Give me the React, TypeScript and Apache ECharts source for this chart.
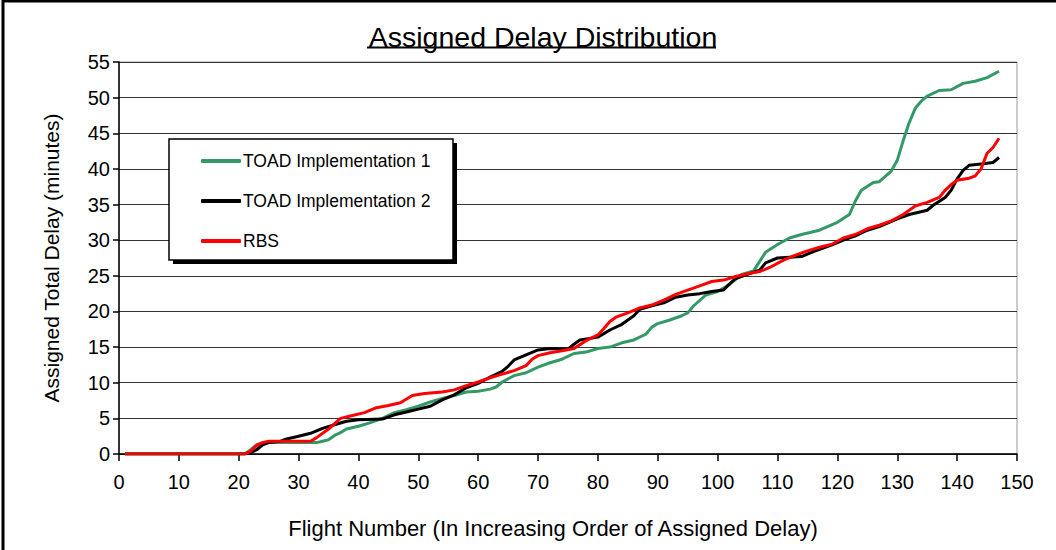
import React, { useEffect, useRef } from "react";
import * as echarts from "echarts";

const FONT = "'Liberation Sans', Arial, sans-serif";

const seriesNames = ["TOAD Implementation 1", "TOAD Implementation 2", "RBS"];
const seriesColors = ["#339966", "#000000", "#FF0000"];

const toad1: [number, number][] = [
  [1, 0], [21, 0], [22, 0.6], [23, 1.3], [24, 1.6], [33, 1.6], [34, 1.8], [35, 2.0], [36, 2.6], [37, 3.0],
  [38, 3.5], [40, 3.9], [42, 4.4], [44, 5.0], [46, 5.8], [48, 6.2], [50, 6.7], [52, 7.3], [54, 7.8], [56, 8.2],
  [58, 8.7], [60, 8.8], [62, 9.1], [63, 9.4], [64, 10.1], [66, 11.0], [68, 11.4], [70, 12.2], [72, 12.8], [74, 13.3],
  [76, 14.1], [78, 14.3], [80, 14.8], [82, 15.0], [84, 15.6], [86, 16.0], [88, 16.8], [89, 17.8], [90, 18.3], [92, 18.8],
  [94, 19.4], [95, 19.8], [96, 20.8], [98, 22.3], [100, 22.8], [102, 23.8], [104, 25.2], [106, 25.7], [107, 27.0], [108, 28.3],
  [110, 29.4], [112, 30.3], [114, 30.8], [117, 31.4], [120, 32.5], [122, 33.6], [123, 35.5], [124, 37.0], [126, 38.1], [127, 38.2],
  [129, 39.7], [130, 41.2], [131, 44.0], [132, 46.5], [133, 48.5], [134, 49.5], [135, 50.2], [137, 51.0], [139, 51.1], [141, 52.0],
  [143, 52.3], [145, 52.8], [147, 53.7],
];

const toad2: [number, number][] = [
  [1, 0], [21, 0], [22, 0.2], [23, 0.6], [24, 1.3], [25, 1.6], [27, 1.8], [28, 2.1], [30, 2.5], [32, 2.9],
  [34, 3.6], [36, 4.1], [38, 4.6], [40, 4.8], [44, 4.9], [46, 5.5], [48, 5.9], [50, 6.3], [52, 6.7], [54, 7.6],
  [56, 8.3], [58, 9.3], [60, 9.9], [62, 10.8], [64, 11.6], [65, 12.3], [66, 13.2], [68, 13.9], [70, 14.6], [72, 14.8],
  [75, 14.7], [76, 15.4], [77, 16.0], [80, 16.4], [82, 17.4], [84, 18.2], [86, 19.4], [87, 20.3], [89, 20.8], [91, 21.2],
  [93, 22.0], [95, 22.3], [97, 22.5], [99, 22.8], [101, 23.0], [102, 23.9], [103, 24.6], [105, 25.2], [107, 25.8], [108, 26.8],
  [110, 27.5], [114, 27.7], [116, 28.4], [119, 29.3], [121, 30.0], [123, 30.6], [125, 31.4], [127, 31.9], [130, 33.0], [132, 33.6],
  [135, 34.2], [136, 34.9], [138, 36.0], [139, 37.0], [140, 38.6], [141, 39.8], [142, 40.5], [144, 40.7], [146, 40.9], [147, 41.6],
];

const rbs: [number, number][] = [
  [1, 0], [21, 0], [22, 0.4], [23, 1.2], [24, 1.6], [25, 1.8], [32, 1.8], [33, 2.3], [35, 3.5], [37, 5.0],
  [39, 5.4], [41, 5.8], [43, 6.5], [45, 6.8], [47, 7.2], [49, 8.2], [51, 8.5], [54, 8.7], [56, 9.0], [58, 9.6],
  [60, 10.1], [62, 10.7], [64, 11.2], [66, 11.7], [68, 12.4], [69, 13.3], [70, 13.8], [72, 14.2], [74, 14.5], [76, 14.8],
  [78, 15.9], [80, 16.7], [81, 17.6], [82, 18.6], [83, 19.2], [85, 19.8], [87, 20.5], [89, 20.9], [91, 21.6], [93, 22.4],
  [95, 23.0], [97, 23.6], [99, 24.2], [101, 24.4], [103, 24.9], [105, 25.3], [107, 25.6], [109, 26.3], [111, 27.2], [113, 27.9],
  [115, 28.5], [117, 29.0], [119, 29.4], [121, 30.3], [123, 30.8], [125, 31.6], [127, 32.1], [129, 32.7], [131, 33.6], [133, 34.8],
  [135, 35.3], [137, 36.0], [138, 37.0], [139, 37.8], [140, 38.4], [142, 38.7], [143, 39.0], [144, 40.0], [145, 42.2], [146, 43.0],
  [147, 44.3],
];

const seriesData = [toad1, toad2, rbs];

const titleText = "Assigned Delay Distribution";
const xAxisName = "Flight Number (In Increasing Order of Assigned Delay)";
const yAxisName = "Assigned Total Delay (minutes)";

export default function App() {
  const ref = useRef<HTMLDivElement>(null);

  useEffect(() => {
    if (!ref.current) return;
    const chart = echarts.init(ref.current, null, { renderer: "svg" });
    chart.setOption({
      animation: false,
      backgroundColor: "#ffffff",
      title: {
        text: titleText,
        left: 538,
        top: 17,
        textAlign: "center",
        textStyle: { fontFamily: FONT, fontSize: 28.5, fontWeight: "normal", color: "#000" },
      },
      grid: {
        left: 119,
        right: 39,
        top: 62,
        bottom: 96,
        show: true,
        borderColor: "#999",
        borderWidth: 1,
        backgroundColor: "transparent",
      },
      legend: {
        orient: "vertical",
        left: 196,
        top: 147,
        itemWidth: 40,
        itemHeight: 4,
        itemGap: 22,
        icon: "roundRect",
        z: 20,
        data: seriesNames,
        textStyle: { fontFamily: FONT, fontSize: 17.5, color: "#000", padding: [0, 0, 0, -3] },
      },
      xAxis: {
        type: "value",
        min: 0,
        max: 150,
        interval: 10,
        name: xAxisName,
        nameLocation: "middle",
        nameGap: 63,
        nameTextStyle: { fontFamily: FONT, fontSize: 22, color: "#000", padding: [0, 30, 0, 0] },
        axisLine: { show: true, onZero: false, lineStyle: { color: "#000", width: 1.5 } },
        axisTick: { show: true, length: 7, lineStyle: { color: "#000", width: 1.5 } },
        axisLabel: { fontFamily: FONT, fontSize: 20, color: "#000", margin: 18 },
        splitLine: { show: false },
      },
      yAxis: {
        type: "value",
        min: 0,
        max: 55,
        interval: 5,
        name: yAxisName,
        nameLocation: "middle",
        nameGap: 57,
        nameTextStyle: { fontFamily: FONT, fontSize: 21, color: "#000" },
        axisLine: { show: true, lineStyle: { color: "#000", width: 1.5 } },
        axisTick: { show: true, length: 6, lineStyle: { color: "#000", width: 1.5 } },
        axisLabel: { fontFamily: FONT, fontSize: 20, color: "#000", margin: 9 },
        splitLine: { show: true, lineStyle: { color: "#333", width: 1.2 } },
      },
      graphic: [
        {
          type: "line",
          z: 30,
          shape: { x1: 3, y1: 1, x2: 1056, y2: 1 },
          style: { stroke: "#000", lineWidth: 3 },
        },
        {
          type: "line",
          z: 30,
          shape: { x1: 3, y1: 0, x2: 3, y2: 550 },
          style: { stroke: "#000", lineWidth: 3 },
        },
        {
          type: "line",
          z: 30,
          shape: { x1: 367, y1: 47.5, x2: 716, y2: 47.5 },
          style: { stroke: "#000", lineWidth: 2 },
        },
        {
          type: "rect",
          z: 10,
          shape: { x: 173, y: 143, width: 284, height: 121 },
          style: { fill: "#000" },
        },
        {
          type: "rect",
          z: 11,
          shape: { x: 169, y: 139, width: 284, height: 121 },
          style: { fill: "#fff", stroke: "#000", lineWidth: 1.5 },
        },
      ],
      series: seriesData.map((d, i) => ({
        name: seriesNames[i],
        type: "line",
        data: d,
        showSymbol: false,
        symbol: "none",
        color: seriesColors[i],
        lineStyle: { color: seriesColors[i], width: 3 },
        itemStyle: { color: seriesColors[i] },
        z: 2 + i,
      })),
    });
    return () => chart.dispose();
  }, []);

  return (
    <div
      ref={ref}
      style={{ position: "absolute", left: 0, top: 0, width: 1056, height: 550 }}
    />
  );
}
